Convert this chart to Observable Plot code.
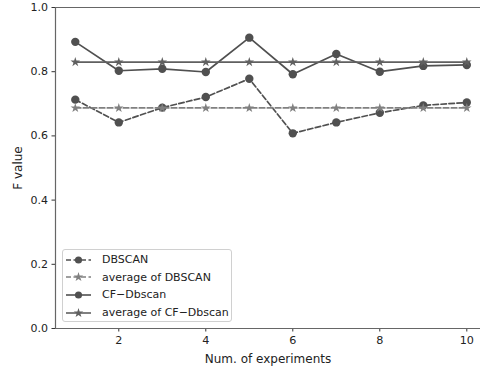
<!DOCTYPE html>
<html>
<head>
<meta charset="utf-8">
<script src="https://cdn.jsdelivr.net/npm/d3@7"></script>
<script src="https://cdn.jsdelivr.net/npm/@observablehq/plot@0.6"></script>
<style>
  html, body { margin: 0; padding: 0; background: #fff; }
  #wrap { position: relative; width: 480px; height: 370px; font-family: "DejaVu Sans", sans-serif; }
  #wrap svg text { font-family: "DejaVu Sans", sans-serif; }
  #legend { position: absolute; left: 62px; top: 249px; width: 170px; height: 73px; box-sizing: border-box;
    border: 1px solid #d0d0d0; border-radius: 3px; background: rgba(255,255,255,0.85); padding: 1px 0 0 2px; }
  .row { display: flex; align-items: center; height: 17.6px; font-size: 11px; color: #222; white-space: nowrap; }
  .row svg { margin-right: 10px; }
</style>
</head>
<body>
<div id="wrap"><div id="legend"></div></div>
<script>
const experiments = [1, 2, 3, 4, 5, 6, 7, 8, 9, 10];
const dbscan = [0.713, 0.642, 0.688, 0.721, 0.778, 0.608, 0.642, 0.672, 0.695, 0.704];
const cfDbscan = [0.893, 0.803, 0.809, 0.799, 0.906, 0.792, 0.855, 0.800, 0.818, 0.821];
const avgDbscan = 0.687;
const avgCf = 0.830;
const xTicks = [2, 4, 6, 8, 10];
const yTicks = [0, 0.2, 0.4, 0.6, 0.8, 1.0];

const series = [
  {name: "DBSCAN", values: dbscan, color: "#505050", dash: "5.5,2.5", symbol: "circle"},
  {name: "average of DBSCAN", values: experiments.map(() => avgDbscan), color: "#808080", dash: "5.5,2.5", symbol: "star"},
  {name: "CF\u2212Dbscan", values: cfDbscan, color: "#505050", dash: null, symbol: "circle"},
  {name: "average of CF\u2212Dbscan", values: experiments.map(() => avgCf), color: "#606060", dash: null, symbol: "star"}
];

const marks = [];
for (const s of series) {
  const data = experiments.map((x, i) => ({x, y: s.values[i]}));
  marks.push(Plot.line(data, {x: "x", y: "y", stroke: s.color, strokeWidth: 1.7, strokeDasharray: s.dash || undefined}));
  marks.push(Plot.dot(data, {x: "x", y: "y", symbol: s.symbol, fill: s.color, stroke: "none", r: s.symbol === "circle" ? 4.2 : 3}));
}

const xmin = 0.545, xmax = 10.315;
const chart = Plot.plot({
  width: 480, height: 370,
  marginLeft: 55, marginRight: 0, marginTop: 7, marginBottom: 42,
  style: {fontFamily: "'DejaVu Sans', sans-serif", fontSize: "11px", color: "#222", background: "white"},
  x: {domain: [xmin, xmax]},
  y: {domain: [0, 1]},
  marks: [
    Plot.axisX({ticks: xTicks, tickSize: 3.5, tickPadding: 4, stroke: "#333", fontSize: 11.2, label: null}),
    Plot.axisX({ticks: [], tickSize: 0, fontSize: 12,
      label: "Num. of experiments", labelAnchor: "center", labelOffset: 34, labelArrow: "none"}),
    Plot.axisY({ticks: yTicks, tickSize: 3.5, tickPadding: 4, tickFormat: d3.format(".1f"), stroke: "#333", fontSize: 11, label: null}),
    Plot.axisY({ticks: [], tickSize: 0, fontSize: 12,
      label: "F value", labelAnchor: "center", labelOffset: 42, labelArrow: "none"}),
    ...marks,
    Plot.ruleY([1], {stroke: "#666", strokeWidth: 1.2}),
    Plot.ruleY([0], {stroke: "#666", strokeWidth: 1.2}),
    Plot.ruleX([xmin], {stroke: "#666", strokeWidth: 1.2})
  ]
});
document.getElementById("wrap").prepend(chart);

const legend = document.getElementById("legend");
for (const s of series) {
  const row = document.createElement("div");
  row.className = "row";
  const sym = s.symbol === "circle" ? d3.symbol(d3.symbolCircle, 40)() : d3.symbol(d3.symbolStar, 28)();
  row.innerHTML = `<svg width="27" height="10"><line x1="1" x2="26" y1="5" y2="5" stroke="${s.color}" stroke-width="1.6" ${s.dash ? `stroke-dasharray="5,2.5"` : ""}/><path transform="translate(13.5,5)" d="${sym}" fill="${s.color}"/></svg><span>${s.name}</span>`;
  legend.appendChild(row);
}
</script>
</body>
</html>
